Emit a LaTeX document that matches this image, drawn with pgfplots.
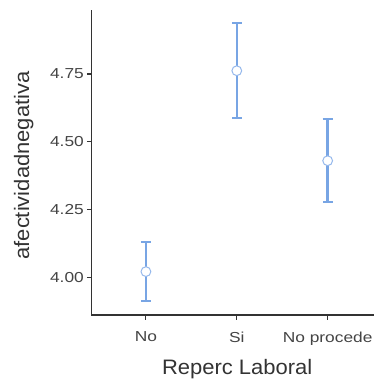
\documentclass[border=0pt]{standalone}
\usepackage{pgfplots}
\pgfplotsset{compat=1.18}
\usepackage{fontspec}
\setmainfont{Liberation Sans}
\newfontfamily\tickfont[FakeStretch=1.2]{Liberation Sans}
\newfontfamily\titlefont[FakeStretch=1.05]{Liberation Sans}

\definecolor{barblue}{RGB}{120,165,228}
\definecolor{edgeblue}{RGB}{150,185,236}
\definecolor{axisgrey}{RGB}{51,51,51}
\definecolor{tickgrey}{RGB}{68,68,68}

% means and half-widths of the intervals
\pgfplotstableread{
x  y      e
1  4.021  0.108
2  4.762  0.175
3  4.430  0.153
}\means

\begin{document}
\begin{tikzpicture}
\begin{axis}[
  scale only axis,
  width=282.5bp, height=305bp,
  xmin=0.401, xmax=3.51,
  ymin=3.861, ymax=4.986,
  axis x line*=bottom, axis y line*=left,
  axis line style={-, color=axisgrey, line width=1.1bp},
  every tick/.style={color=axisgrey, line width=1.1bp},
  tick align=outside,
  major tick length=4.5bp,
  xtick={1,2,3},
  xticklabels={No,Si,No procede},
  ytick={4,4.25,4.5,4.75},
  /pgf/number format/assume math mode=true,
  yticklabel={\pgfmathprintnumber[fixed,fixed zerofill,precision=2]{\tick}},
  ticklabel style={font=\fontsize{14.5}{14.5}\tickfont, text=tickgrey},
  yticklabel style={inner sep=0pt, xshift=-3bp},
  xticklabel style={inner sep=0pt, yshift=-12bp},
  xlabel={Reperc Laboral},
  ylabel={afectividadnegativa},
  label style={font=\fontsize{21}{21}\titlefont, text=axisgrey},
  xlabel style={at={(axis description cs:0.5157,-0.1967)}, anchor=base, inner sep=0pt},
  ylabel style={at={(axis description cs:-0.2212,0.4902)}, anchor=base, inner sep=0pt},
  clip=false,
]
\coordinate (ll) at (rel axis cs:0,0);
% interval bars
\addplot[
  draw=none, no marks,
  error bars/.cd,
    y dir=both, y explicit,
    error bar style={color=barblue, line width=2.5bp},
    error mark options={rotate=90, mark size=5bp, color=barblue, line width=2.2bp},
] table[x=x, y=y, y error=e] {\means};
% means
\addplot[
  only marks, mark=*, mark size=4.9bp,
  mark options={fill=white, draw=edgeblue, line width=1bp},
] table[x=x, y=y] {\means};
\end{axis}
\pgfresetboundingbox
\path ([shift={(-91.5bp,-66bp)}]ll) rectangle ([shift={(282.5bp,315bp)}]ll);
\end{tikzpicture}
\end{document}
